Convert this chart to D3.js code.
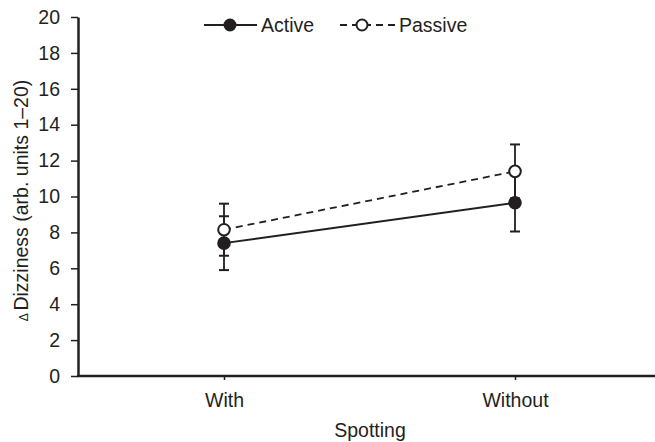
<!DOCTYPE html>
<meta charset="utf-8">
<style>
    body { margin: 0; background: #fff; }
    svg text {
        font-family: "Liberation Sans", Arial, sans-serif;
        fill: #231f20;
    }
    .axis path, .axis line {
        fill: none;
        stroke: #231f20;
    }
</style>

<div class="chart"></div>

<script src="https://cdn.jsdelivr.net/npm/d3@7"></script>

<script>
    // data
    var categories = ['With', 'Without'];
    var activeMean = [7.4, 9.65];
    var activeErr = [1.5, 1.6];
    var passiveMean = [8.15, 11.4];
    var passiveErr = [1.45, 1.5];
    var yTicks = [0, 2, 4, 6, 8, 10, 12, 14, 16, 18, 20];

    var ink = '#231f20';
    var width = 655, height = 442;
    var fs = 19.5;

    var svg = d3.select('.chart')
        .append('svg')
        .attr('width', width)
        .attr('height', height);

    var x = d3.scalePoint()
        .domain(categories)
        .range([224, 515]);

    var y = d3.scaleLinear()
        .domain([0, 20])
        .range([376, 17]);

    var series = [
        {name: 'Active', mean: activeMean, err: activeErr, dash: null, fill: ink},
        {name: 'Passive', mean: passiveMean, err: passiveErr, dash: '7,5', fill: '#fff'}
    ];
    series.forEach(function(s) {
        s.points = categories.map(function(c, i) {
            return {cat: c, v: s.mean[i], e: s.err[i]};
        });
    });

    // y axis
    var yAxis = d3.axisLeft(y)
        .tickValues(yTicks)
        .tickSize(7)
        .tickSizeOuter(0)
        .tickPadding(11);
    var gy = svg.append('g')
        .attr('class', 'axis')
        .attr('transform', 'translate(78,0)')
        .call(yAxis);
    gy.select('.domain').attr('stroke-width', 2.5);
    gy.selectAll('.tick line').attr('stroke-width', 1.5);
    gy.selectAll('text').attr('font-size', fs);

    // x axis
    var xAxis = d3.axisBottom(x)
        .tickSize(4)
        .tickSizeOuter(0)
        .tickPadding(13);
    var gx = svg.append('g')
        .attr('class', 'axis')
        .attr('transform', 'translate(0,' + y(0) + ')')
        .call(xAxis);
    gx.select('.domain').remove();
    gx.append('line')
        .attr('x1', 77).attr('x2', width)
        .attr('stroke', ink).attr('stroke-width', 2.5);
    gx.selectAll('.tick line').attr('stroke-width', 1.5);
    gx.selectAll('text').attr('font-size', fs);

    // axis titles
    svg.append('text')
        .attr('x', 370)
        .attr('y', 437)
        .attr('text-anchor', 'middle')
        .attr('font-size', fs)
        .text('Spotting');

    var yt = svg.append('text')
        .attr('transform', 'translate(28,' + ((y(0) + y(20)) / 2 + 4) + ') rotate(-90)')
        .attr('text-anchor', 'middle')
        .attr('font-size', fs);
    yt.append('tspan').attr('font-size', 12).text('\u0394 ');
    yt.append('tspan').text('Dizziness (arb. units 1\u201320)');

    // error bars first
    series.forEach(function(s) {
        var g = svg.append('g');
        g.selectAll('line.bar')
            .data(s.points)
            .enter().append('line')
            .attr('x1', function(d) { return x(d.cat); })
            .attr('x2', function(d) { return x(d.cat); })
            .attr('y1', function(d) { return y(d.v - d.e); })
            .attr('y2', function(d) { return y(d.v + d.e); })
            .attr('stroke', ink).attr('stroke-width', 1.8);
        [-1, 1].forEach(function(sgn) {
            g.selectAll('line.cap' + sgn)
                .data(s.points)
                .enter().append('line')
                .attr('x1', function(d) { return x(d.cat) - 5; })
                .attr('x2', function(d) { return x(d.cat) + 5; })
                .attr('y1', function(d) { return y(d.v + sgn * d.e); })
                .attr('y2', function(d) { return y(d.v + sgn * d.e); })
                .attr('stroke', ink).attr('stroke-width', 2);
        });
    });

    // lines
    var line = d3.line()
        .x(function(d) { return x(d.cat); })
        .y(function(d) { return y(d.v); });
    series.forEach(function(s) {
        svg.append('path')
            .datum(s.points)
            .attr('d', line)
            .attr('fill', 'none')
            .attr('stroke', ink)
            .attr('stroke-width', 1.8)
            .attr('stroke-dasharray', s.dash);
    });

    // markers
    series.forEach(function(s) {
        svg.selectAll(null)
            .data(s.points)
            .enter().append('circle')
            .attr('cx', function(d) { return x(d.cat); })
            .attr('cy', function(d) { return y(d.v); })
            .attr('r', 5.8)
            .attr('fill', s.fill)
            .attr('stroke', ink)
            .attr('stroke-width', 2);
    });

    // legend
    var legendItems = [
        {s: series[0], x1: 204, x2: 257, cx: 230, tx: 261},
        {s: series[1], x1: 340, x2: 395, cx: 362, tx: 399}
    ];
    var lg = svg.append('g').attr('transform', 'translate(0,25)');
    legendItems.forEach(function(it) {
        lg.append('line')
            .attr('x1', it.x1).attr('x2', it.x2)
            .attr('stroke', ink).attr('stroke-width', 1.8)
            .attr('stroke-dasharray', it.s.dash);
        lg.append('circle')
            .attr('cx', it.cx).attr('r', 5.5)
            .attr('fill', it.s.fill)
            .attr('stroke', ink).attr('stroke-width', 2);
        lg.append('text')
            .attr('x', it.tx).attr('y', 7)
            .attr('font-size', fs)
            .text(it.s.name);
    });
</script>
